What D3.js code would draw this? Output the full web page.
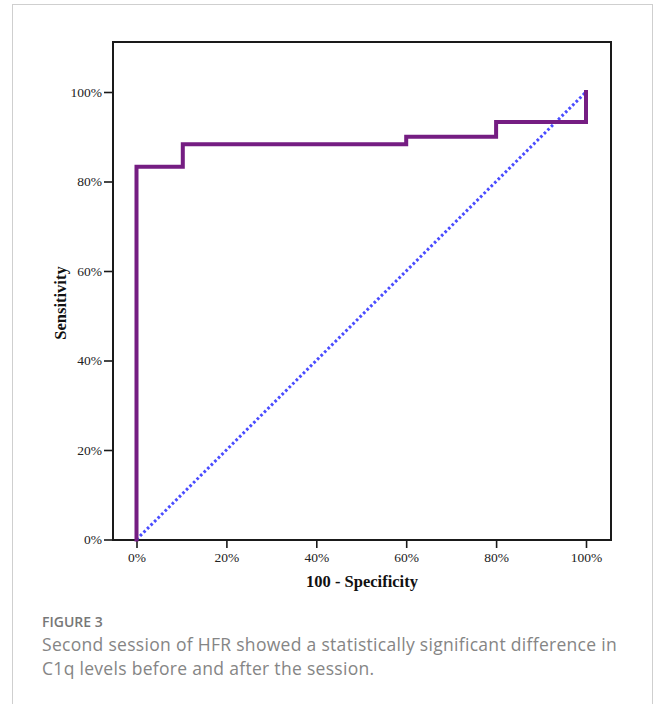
<!DOCTYPE html>
<html>
<head>
<meta charset="utf-8">
<script src="https://cdn.jsdelivr.net/npm/d3@7"></script>
<style>
    body { margin: 0; background: #fff; }
    svg { display: block; }
</style>
</head>
<body>
<div class="mainBody"></div>
<script>
// ROC curve steps (percent)
var rocSpecificity = [0, 0, 10.3, 10.3, 60, 60, 80, 80, 100, 100];
var rocSensitivity = [0, 83.3, 83.3, 88.3, 88.3, 90, 90, 93.3, 93.3, 100];
var refLine = [0, 100];
var tickValues = [0, 20, 40, 60, 80, 100];
var captionLines = [
    "Second session of HFR showed a statistically significant difference in",
    "C1q levels before and after the session."
];

var width = 656, height = 704;
var svg = d3.select("div.mainBody").append("svg")
    .attr("width", width)
    .attr("height", height);

function drawCard() {
    svg.append("rect")
        .attr("x", 12.5)
        .attr("y", 4.5)
        .attr("width", 640)
        .attr("height", 720)
        .attr("fill", "#fff")
        .attr("stroke", "#cfcfcf");
}

function drawChart() {
    let x = d3.scaleLinear().domain([0, 100]).range([136.5, 586]);
    let y = d3.scaleLinear().domain([0, 100]).range([539.5, 92]);

    let frame = { left: 113, top: 42, right: 611, bottom: 540 };
    let tickFont = "'Liberation Serif', serif";

    svg.append("rect")
        .attr("x", frame.left)
        .attr("y", frame.top)
        .attr("width", frame.right - frame.left)
        .attr("height", frame.bottom - frame.top)
        .attr("fill", "none")
        .attr("stroke", "#1a1a1a")
        .attr("stroke-width", 2);

    let xAxis = svg.append("g")
        .attr("transform", `translate(0,${frame.bottom})`)
        .call(d3.axisBottom(x).tickValues(tickValues).tickSize(8).tickPadding(4)
            .tickFormat(function(d) { return d + "%"; }));
    let yAxis = svg.append("g")
        .attr("transform", `translate(${frame.left},0)`)
        .call(d3.axisLeft(y).tickValues(tickValues).tickSize(9).tickPadding(2)
            .tickFormat(function(d) { return d + "%"; }));

    [xAxis, yAxis].forEach(function(ax) {
        ax.select(".domain").remove();
        ax.selectAll(".tick line").attr("stroke", "#1a1a1a").attr("stroke-width", 1.6);
        ax.selectAll(".tick text")
            .attr("fill", "#222")
            .style("font-family", tickFont)
            .style("font-size", "13.5px");
    });

    // reference diagonal
    svg.append("path")
        .datum(refLine)
        .attr("d", d3.line().x(function(d) { return x(d); }).y(function(d) { return y(d); }))
        .attr("fill", "none")
        .attr("stroke", "#4a4cff")
        .attr("stroke-width", 3)
        .attr("stroke-dasharray", "2.6,2.4");

    let rocLine = d3.line()
        .x(function(d, i) { return x(rocSpecificity[i]); })
        .y(function(d) { return y(d); });
    svg.append("path")
        .datum(rocSensitivity)
        .attr("d", rocLine)
        .attr("fill", "none")
        .attr("stroke", "#751d82")
        .attr("stroke-width", 4)
        .attr("stroke-linejoin", "miter")
        .attr("stroke-linecap", "square");

    svg.append("text")
        .attr("x", (frame.left + frame.right) / 2)
        .attr("y", 587)
        .attr("text-anchor", "middle")
        .style("font-family", tickFont)
        .style("font-weight", "bold")
        .style("font-size", "16.5px")
        .attr("fill", "#111")
        .text("100 - Specificity");

    svg.append("text")
        .attr("transform", "translate(66,303) rotate(-90)")
        .attr("text-anchor", "middle")
        .style("font-family", tickFont)
        .style("font-weight", "bold")
        .style("font-size", "16.5px")
        .attr("fill", "#111")
        .text("Sensitivity");
}

function drawCaption() {
    svg.append("text")
        .attr("x", 42)
        .attr("y", 627)
        .style("font-family", "'Open Sans', sans-serif")
        .style("font-size", "14px")
        .style("font-weight", "600")
        .attr("fill", "#777")
        .text("FIGURE 3");
    svg.selectAll("text.caption")
        .data(captionLines)
        .enter().append("text")
        .attr("class", "caption")
        .attr("x", 42)
        .attr("y", function(d, i) { return 651 + i * 24; })
        .style("font-family", "'Open Sans', sans-serif")
        .style("font-size", "17.5px")
        .style("letter-spacing", "0.3px")
        .attr("fill", "#858585")
        .text(function(d) { return d; });
}

drawCard();
drawChart();
drawCaption();
</script>
</body>
</html>
